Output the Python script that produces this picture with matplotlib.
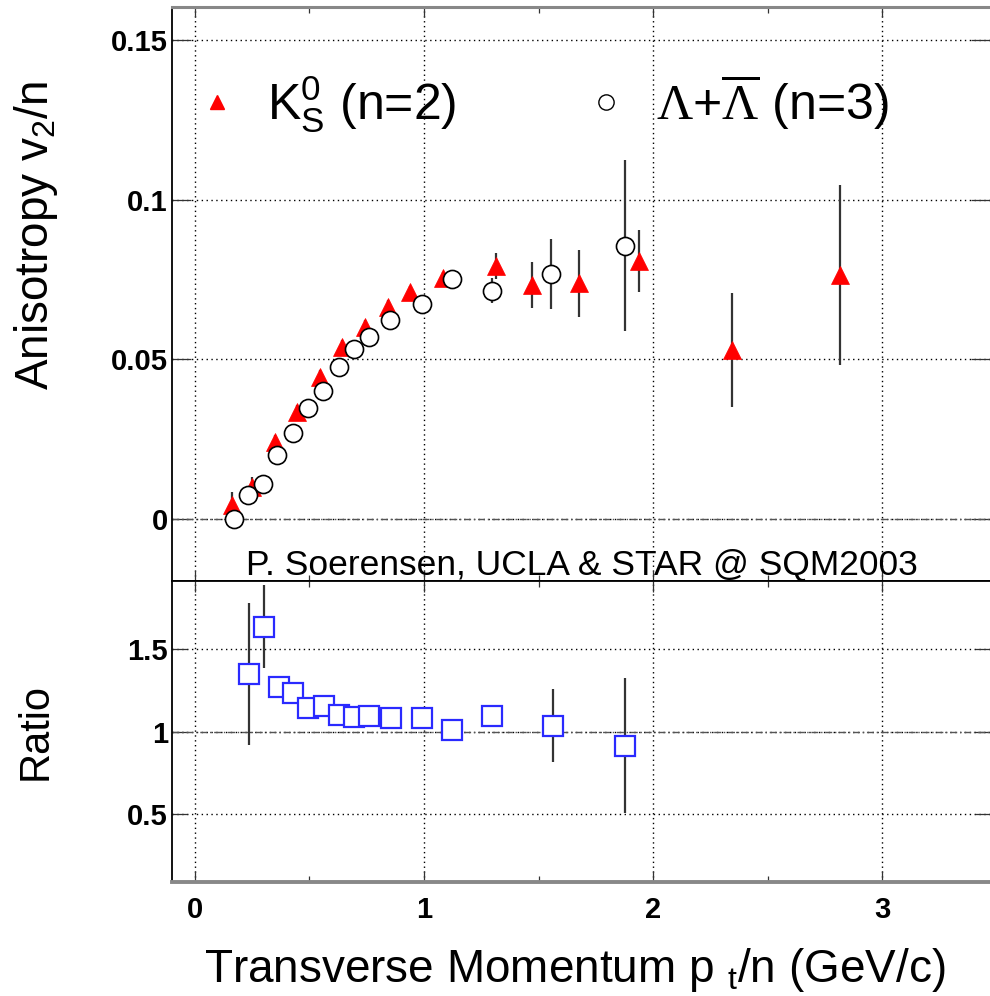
import matplotlib
matplotlib.use("Agg")
import matplotlib.pyplot as plt
from matplotlib.lines import Line2D
from matplotlib.ticker import FixedLocator, FixedFormatter, MultipleLocator

plt.rcParams['font.family'] = ['Liberation Sans', 'DejaVu Sans']
plt.rcParams['mathtext.fontset'] = 'custom'
plt.rcParams['mathtext.rm'] = 'Liberation Sans'
plt.rcParams['mathtext.it'] = 'Liberation Sans:italic'
plt.rcParams['mathtext.bf'] = 'Liberation Sans:bold'
plt.rcParams['mathtext.cal'] = 'Liberation Serif'

# ---------------- data ----------------
k0s_pt = [0.160, 0.247, 0.349, 0.444, 0.545, 0.644, 0.742, 0.843, 0.938, 1.083,
          1.313, 1.469, 1.675, 1.937, 2.344, 2.814]
k0s_v2 = [0.0044, 0.0101, 0.0242, 0.0336, 0.0446, 0.0540, 0.0602, 0.0665, 0.0711, 0.0754,
          0.0792, 0.0733, 0.0738, 0.0809, 0.0529, 0.0764]
k0s_err = [0.004, 0.003, 0.002, 0.002, 0.002, 0.002, 0.002, 0.002, 0.002, 0.002,
           0.004, 0.0073, 0.0104, 0.0097, 0.0179, 0.0281]

lam_pt = [0.170, 0.233, 0.298, 0.359, 0.429, 0.494, 0.560, 0.628, 0.695, 0.759,
          0.851, 0.992, 1.121, 1.295, 1.556, 1.879]
lam_v2 = [0.0000, 0.0075, 0.0110, 0.0200, 0.0268, 0.0347, 0.0402, 0.0475, 0.0532, 0.0571,
          0.0623, 0.0673, 0.0751, 0.0715, 0.0767, 0.0856]
lam_err = [0.002, 0.002, 0.002, 0.002, 0.002, 0.002, 0.002, 0.002, 0.002, 0.002,
           0.002, 0.002, 0.002, 0.004, 0.011, 0.0268]

ratio_pt = [0.236, 0.301, 0.365, 0.429, 0.494, 0.563, 0.628, 0.694, 0.760, 0.854,
            0.989, 1.120, 1.295, 1.561, 1.879]
ratio_val = [1.350, 1.638, 1.271, 1.235, 1.147, 1.159, 1.103, 1.093, 1.099, 1.087,
             1.087, 1.012, 1.097, 1.038, 0.917]
ratio_err = [0.43, 0.25, 0.05, 0.03, 0.02, 0.02, 0.02, 0.02, 0.02, 0.02,
             0.02, 0.03, 0.06, 0.22, 0.41]

x_ticks = [0, 1, 2, 3]
x_ticklabels = ['0', '1', '2', '3']
top_yticks = [0, 0.05, 0.1, 0.15]
top_yticklabels = ['0', '0.05', '0.1', '0.15']
bot_yticks = [0.5, 1.0, 1.5]
bot_yticklabels = ['0.5', '1', '1.5']

label_k0s = r'K$^{0}_{\mathrm{S}}$ (n=2)'
label_lam = r'$\mathcal{\Lambda}{+}\overline{\mathcal{\Lambda}}$ (n=3)'
credit = 'P. Soerensen, UCLA & STAR @ SQM2003'

# ---------------- figure ----------------
W, H = 990, 996
fig = plt.figure(figsize=(W / 100, H / 100), dpi=100)
ax1 = fig.add_axes([172 / W, 415 / H, 818 / W, 574 / H])
ax2 = fig.add_axes([172 / W, 114 / H, 818 / W, 301 / H])

xlim = (-0.1, 3.47)
for ax in (ax1, ax2):
    ax.set_xlim(*xlim)
    ax.xaxis.set_major_locator(FixedLocator(x_ticks))
    ax.xaxis.set_minor_locator(MultipleLocator(0.5))
    ax.grid(True, which='major', linestyle=(0, (1, 2.5)), linewidth=1.0, color='black')
    ax.set_axisbelow(True)
    ax.spines['right'].set_visible(False)
    ax.spines['left'].set_linewidth(1.3)
    ax.spines['left'].set_color('black')
    ax.tick_params(which='both', direction='in', top=True, right=True,
                   color='#333333', width=0.9)
    ax.tick_params(axis='x', which='minor', length=4)

# top panel
ax1.set_ylim(-0.0194, 0.1603)
ax1.yaxis.set_major_locator(FixedLocator(top_yticks))
ax1.yaxis.set_major_formatter(FixedFormatter(top_yticklabels))
ax1.tick_params(axis='y', which='major', length=14, pad=3)
ax1.tick_params(axis='x', which='major', length=7)
ax1.tick_params(axis='x', labelbottom=False)
ax1.spines['top'].set_color('#888888')
ax1.spines['top'].set_linewidth(2.2)
ax1.spines['bottom'].set_color('black')
ax1.spines['bottom'].set_linewidth(1.3)
ax1.axhline(0, linestyle=(0, (5, 2, 1, 2)), linewidth=1.0, color='#555555', zorder=1)

ax1.errorbar(k0s_pt, k0s_v2, yerr=k0s_err, fmt='^', ms=13.5, mfc='red', mec='red',
             mew=0.5, ecolor='#333333', elinewidth=1.6, capsize=0, zorder=3)
ax1.errorbar(lam_pt, lam_v2, yerr=lam_err, fmt='o', ms=13, mfc='white', mec='black',
             mew=1.2, ecolor='#333333', elinewidth=1.6, capsize=0, zorder=4)

for lab in ax1.get_yticklabels():
    lab.set_fontweight('bold')
    lab.set_fontsize(21)

handles = [Line2D([], [], linestyle='none', marker='^', ms=10, mfc='red', mec='red'),
           Line2D([], [], linestyle='none', marker='o', ms=11, mfc='white', mec='black', mew=1.0)]
ax1.legend(handles, [label_k0s, label_lam], ncol=2, frameon=False, fontsize=36,
           loc='center left', bbox_to_anchor=(0.0306, 0.831), borderaxespad=0,
           borderpad=0, handlelength=0.8, handletextpad=0.6, columnspacing=2.6)

ax1.text(0.0905, 0.0105, credit, transform=ax1.transAxes, fontsize=25.5,
         ha='left', va='baseline')

# bottom panel
ax2.set_ylim(0.09, 1.915)
ax2.yaxis.set_major_locator(FixedLocator(bot_yticks))
ax2.yaxis.set_major_formatter(FixedFormatter(bot_yticklabels))
ax2.xaxis.set_major_formatter(FixedFormatter(x_ticklabels))
ax2.tick_params(axis='y', which='major', length=11, pad=3)
ax2.tick_params(axis='x', which='major', length=8, pad=10)
ax2.spines['top'].set_color('black')
ax2.spines['top'].set_linewidth(1.3)
ax2.spines['bottom'].set_color('#888888')
ax2.spines['bottom'].set_linewidth(2.8)
ax2.axhline(1.0, linestyle=(0, (5, 2, 1, 2)), linewidth=1.0, color='#555555', zorder=1)

ax2.errorbar(ratio_pt, ratio_val, yerr=ratio_err, fmt='s', ms=14, mfc='white',
             mec='#2a2aff', mew=1.6, ecolor='#333333', elinewidth=1.6, capsize=0, zorder=3)

for lab in ax2.get_yticklabels() + ax2.get_xticklabels():
    lab.set_fontweight('bold')
    lab.set_fontsize(21)

# axis titles
fig.text(575 / W, (H - 982) / H, r'Transverse Momentum p $_{\mathrm{t}}$/n (GeV/c)',
         fontsize=33, ha='center', va='baseline')
fig.text(36 / W, (H - 235) / H, r'Anisotropy v$_{2}$/n', fontsize=33,
         rotation=90, ha='center', va='center')
fig.text(36 / W, (H - 731) / H, 'Ratio', fontsize=30,
         rotation=90, ha='center', va='center')

fig.savefig('out.png', dpi=100)
